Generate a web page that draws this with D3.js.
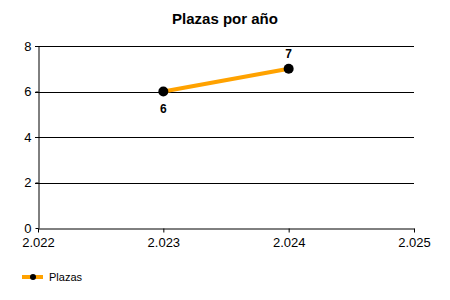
<!DOCTYPE html>
<html>
<head>
<meta charset="utf-8">
<script src="https://cdn.jsdelivr.net/npm/d3@7"></script>
<style>
  body { margin: 0; background: #fff; }
  svg { display: block; font-family: "Liberation Sans", Arial, sans-serif; }
</style>
</head>
<body>
<div id="chart"></div>
<script>
const title = 'Plazas por año'
const seriesName = 'Plazas'
const years = [2023, 2024]
const plazas = [6, 7]
const xTicks = [2022, 2023, 2024, 2025]
const yTicks = [0, 2, 4, 6, 8]

const width = 450
const height = 300
const margin = { top: 46, right: 36, bottom: 72, left: 38 }

const svg = d3.select('#chart')
    .append('svg')
    .attr('width', width)
    .attr('height', height)

const x = d3.scaleLinear().domain([2022, 2025]).range([margin.left, width - margin.right])
const y = d3.scaleLinear().domain([0, 8]).range([height - margin.bottom, margin.top])

// years shown with a dot as thousands separator, e.g. 2.023
const fmt = d => d3.format('.3f')(d / 1000)

svg.append('text')
    .attr('x', 225)
    .attr('y', 24)
    .attr('text-anchor', 'middle')
    .style('font-size', '15px')
    .style('font-weight', 'bold')
    .text(title)

// grid lines
svg.append('g')
    .selectAll('line')
    .data(yTicks.filter(d => d > 0))
    .enter()
    .append('line')
    .attr('x1', x(2022) - 3)
    .attr('x2', x(2025))
    .attr('y1', d => Math.round(y(d)) + 0.5)
    .attr('y2', d => Math.round(y(d)) + 0.5)
    .attr('stroke', '#000')

const xAxis = svg.append('g')
    .attr('transform', `translate(0,${Math.round(y(0)) + 0.5})`)
    .call(d3.axisBottom(x).tickValues(xTicks).tickSize(4).tickSizeOuter(0).tickFormat(fmt))
xAxis.select('.domain').attr('stroke', '#000')
xAxis.selectAll('text').style('font-size', '13px').attr('fill', '#000').attr('y', 18).attr('dy', 0)

const yAxis = svg.append('g')
    .attr('transform', `translate(${Math.round(x(2022)) + 0.5},0)`)
    .call(d3.axisLeft(y).tickValues(yTicks).tickSize(3).tickSizeOuter(0))
yAxis.select('.domain').attr('stroke', '#000')
yAxis.selectAll('text').style('font-size', '13px').attr('fill', '#000').attr('x', -7)

const points = years.map((d, i) => ({ x: d, y: plazas[i] }))

svg.append('path')
    .datum(points)
    .attr('fill', 'none')
    .attr('stroke', '#FFA200')
    .attr('stroke-width', 4)
    .attr('d', d3.line().x(d => x(d.x)).y(d => y(d.y)))

svg.selectAll('circle.pt')
    .data(points)
    .enter()
    .append('circle')
    .attr('class', 'pt')
    .attr('r', 5)
    .attr('cx', d => x(d.x))
    .attr('cy', d => y(d.y))
    .attr('fill', '#000')

svg.selectAll('text.lbl')
    .data(points)
    .enter()
    .append('text')
    .attr('class', 'lbl')
    .attr('x', d => x(d.x))
    .attr('y', (d, i) => i === 0 ? y(d.y) + 21 : y(d.y) - 11)
    .attr('text-anchor', 'middle')
    .style('font-size', '12px')
    .style('font-weight', 'bold')
    .text(d => d.y)

// legend
const legend = svg.append('g').attr('transform', 'translate(22,277)')
legend.append('line')
    .attr('x1', 0).attr('x2', 21)
    .attr('stroke', '#FFA200').attr('stroke-width', 4)
legend.append('circle').attr('cx', 11).attr('r', 3).attr('fill', '#000')
legend.append('text')
    .attr('x', 27).attr('y', 4)
    .style('font-size', '11px')
    .text(seriesName)
</script>
</body>
</html>
